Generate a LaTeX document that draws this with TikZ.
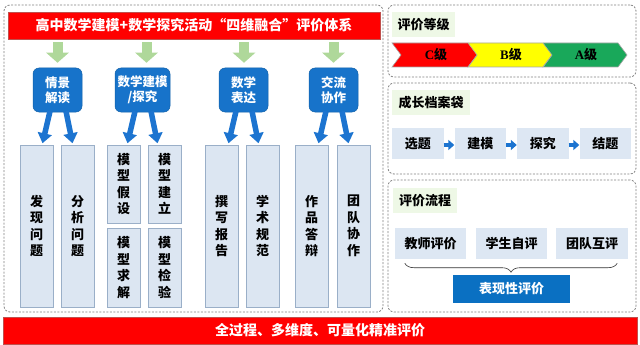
\documentclass[tikz,border=0pt]{standalone}
\usepackage{fontspec}
\setmainfont{Noto Sans CJK SC}
\newfontfamily\tnr{Liberation Serif}
\usetikzlibrary{arrows.meta,calc,decorations.pathreplacing}
\definecolor{tred}{HTML}{FF0000}
\definecolor{tredline}{HTML}{C0504D}
\definecolor{garr}{HTML}{AFD89A}
\definecolor{bbox}{HTML}{1773CA}
\definecolor{bboxline}{HTML}{1060A8}
\definecolor{barr}{HTML}{1C74D0}
\definecolor{colfill}{HTML}{DCE6F2}
\definecolor{coldraw}{HTML}{9AAFC8}
\definecolor{lblbg}{HTML}{EEF8E6}
\definecolor{procfill}{HTML}{DDE7F3}
\definecolor{pblue}{HTML}{0A70C2}
\definecolor{cgreen}{HTML}{19A85A}
\definecolor{cyellow}{HTML}{FFFF00}
\definecolor{panelline}{HTML}{808080}
\tikzset{
  panel/.style={draw=panelline, line width=0.8pt, dash pattern=on 2pt off 1.5pt, rounded corners=6pt, inner sep=0pt},
  redbar/.style={fill=tred, draw=tredline, line width=0.6pt, inner sep=0pt, text=white, font=\bfseries\fontsize{14}{16}\selectfont},
  bluebox/.style={fill=bbox, draw=bboxline, line width=0.5pt, rounded corners=6pt, inner sep=0pt, minimum height=44pt, text=white, align=center, font=\bfseries\fontsize{12.5}{15}\selectfont},
  colbox/.style={fill=colfill, draw=coldraw, line width=0.7pt, inner sep=0pt, minimum width=33pt, align=center, font=\bfseries\fontsize{13}{16.5}\selectfont},
  greenarr/.style={draw=garr, line width=10pt, -{Triangle[width=22pt,length=10pt]}},
  bluearr/.style={draw=barr, line width=5.5pt, -{Triangle[width=14pt,length=10pt]}},
  lblbox/.style={fill=lblbg, inner sep=0pt, minimum height=25pt, font=\bfseries\fontsize{13}{15}\selectfont},
  procbox/.style={fill=procfill, inner sep=0pt, minimum height=31pt, font=\bfseries\fontsize{13}{15}\selectfont},
  smallarr/.style={draw=barr, line width=4pt, -{Triangle[width=10pt,length=6pt]}},
  chev/.style={draw=gray!70, line width=0.6pt},
  chevtext/.style={font=\bfseries\fontsize{13}{15}\selectfont}
}
\begin{document}
\begin{tikzpicture}[x=1pt,y=-1pt]
\useasboundingbox (0,0) rectangle (640,345);
% panels
\node[panel, minimum width=379pt, minimum height=307pt] (leftpanel) at (193.5,158.5) {};
\node[panel, minimum width=248pt, minimum height=72pt] (rp1) at (512,41) {};
\node[panel, minimum width=248pt, minimum height=91pt] (rp2) at (512,128.5) {};
\node[panel, minimum width=248pt, minimum height=132pt] (rp3) at (512,246) {};
% title
\node[redbar, minimum width=372pt, minimum height=27pt] (title) at (194,25.5) {高中数学建模+数学探究活动“四维融合”评价体系};
% blue boxes
\node[bluebox, minimum width=49pt] (b1) at (57.5,90) {情景\\解读};
\node[bluebox, minimum width=55pt] (b2) at (142.5,90) {数学建模\\/探究};
\node[bluebox, minimum width=49pt] (b3) at (243.5,90) {数学\\表达};
\node[bluebox, minimum width=49pt] (b4) at (333.5,90) {交流\\协作};
% green arrows
\draw[greenarr] ($(title.south -| b1.north)+(0,3)$) -- ($(b1.north)+(0,-5)$);
\draw[greenarr] ($(title.south -| b2.north)+(4,3)$) -- ($(b2.north)+(4,-5)$);
\draw[greenarr] ($(title.south -| b3.north)+(0.5,3)$) -- ($(b3.north)+(0.5,-5)$);
\draw[greenarr] ($(title.south -| b4.north)+(0,3)$) -- ($(b4.north)+(0,-5)$);
% columns
\node[colbox, minimum height=162pt] (c1) at (36.5,226) {发\\现\\问\\题};
\node[colbox, minimum height=162pt] (c2) at (77.5,226) {分\\析\\问\\题};
\node[colbox, minimum height=78pt] (c3a) at (123.5,184) {模\\型\\假\\设};
\node[colbox, minimum height=79pt] (c3b) at (123.5,267.5) {模\\型\\求\\解};
\node[colbox, minimum height=78pt] (c4a) at (164.5,184) {模\\型\\建\\立};
\node[colbox, minimum height=79pt] (c4b) at (164.5,267.5) {模\\型\\检\\验};
\node[colbox, minimum height=162pt] (c5) at (221.5,226) {撰\\写\\报\\告};
\node[colbox, minimum height=162pt] (c6) at (262.5,226) {学\\术\\规\\范};
\node[colbox, minimum height=162pt] (c7) at (311.5,226) {作\\品\\答\\辩};
\node[colbox, minimum height=162pt] (c8) at (353.5,226) {团\\队\\协\\作};
% blue arrows
\foreach \b/\l/\r in {b1/c1/c2, b2/c3a/c4a, b3/c5/c6, b4/c7/c8}{
  \draw[bluearr] ($(\b.south)+(-7.5,-1)$) -- ($(\b.south -| \b.south)+(-15,31)$);
  \draw[bluearr] ($(\b.south)+(8.5,-1)$) -- ($(\b.south -| \b.south)+(15,31)$);
}
% bottom bar
\node[redbar, minimum width=634pt, minimum height=27pt] (bottom) at (320,330.5) {全过程、多维度、可量化精准评价};
% right panel 1
\node[lblbox, minimum width=63pt] (l1) at (423.5,24.5) {评价等级};
\fill[tred] (392,43) -- (468,43) -- (477,55) -- (468,67) -- (392,67) -- (401,55) -- cycle;
\fill[cyellow] (468,43) -- (543,43) -- (552,55) -- (543,67) -- (468,67) -- (477,55) -- cycle;
\fill[cgreen] (543,43) -- (618,43) -- (627,55) -- (618,67) -- (543,67) -- (552,55) -- cycle;
\draw[chev] (392,43) -- (468,43) -- (477,55) -- (468,67) -- (392,67) -- (401,55) -- cycle;
\draw[chev] (468,43) -- (543,43) -- (552,55) -- (543,67) -- (468,67) -- (477,55);
\draw[chev] (543,43) -- (618,43) -- (627,55) -- (618,67) -- (543,67) -- (552,55);
\node[chevtext] (gc) at (436,55) {{\tnr C}级};
\node[chevtext] (gb) at (511,55) {{\tnr B}级};
\node[chevtext] (ga) at (586,55) {{\tnr A}级};
% right panel 2
\node[lblbox, minimum width=78pt] (l2) at (431,102.5) {成长档案袋};
\node[procbox, minimum width=51.5pt] (p1) at (417.75,143.5) {选题};
\node[procbox, minimum width=51.5pt] (p2) at (480.25,143.5) {建模};
\node[procbox, minimum width=51.5pt] (p3) at (542.75,143.5) {探究};
\node[procbox, minimum width=51.5pt] (p4) at (605.25,143.5) {结题};
\draw[smallarr] ($(p1.east)+(0,1.5)$) -- ($(p2.west)+(0,1.5)$);
\draw[smallarr] ($(p2.east)+(0,1.5)$) -- ($(p3.west)+(0,1.5)$);
\draw[smallarr] ($(p3.east)+(0,1.5)$) -- ($(p4.west)+(0,1.5)$);
% right panel 3
\node[lblbox, minimum width=64pt] (l3) at (425,200.5) {评价流程};
\node[procbox, minimum width=71pt] (q1) at (430.5,243.5) {教师评价};
\node[procbox, minimum width=71pt] (q2) at (511.5,243.5) {学生自评};
\node[procbox, minimum width=72pt] (q3) at (592,243.5) {团队互评};
\draw[draw=gray!40!black, line width=0.6pt, decorate, decoration={brace, amplitude=9pt}]
  ($(q3.south east)+(-11,4)$) -- ($(q1.south west)+(10,4)$);
\node[fill=pblue, inner sep=0pt, minimum width=117pt, minimum height=28pt, text=white, font=\bfseries\fontsize{13}{15}\selectfont] (perf) at (511.5,289) {表现性评价};
\end{tikzpicture}
\end{document}
